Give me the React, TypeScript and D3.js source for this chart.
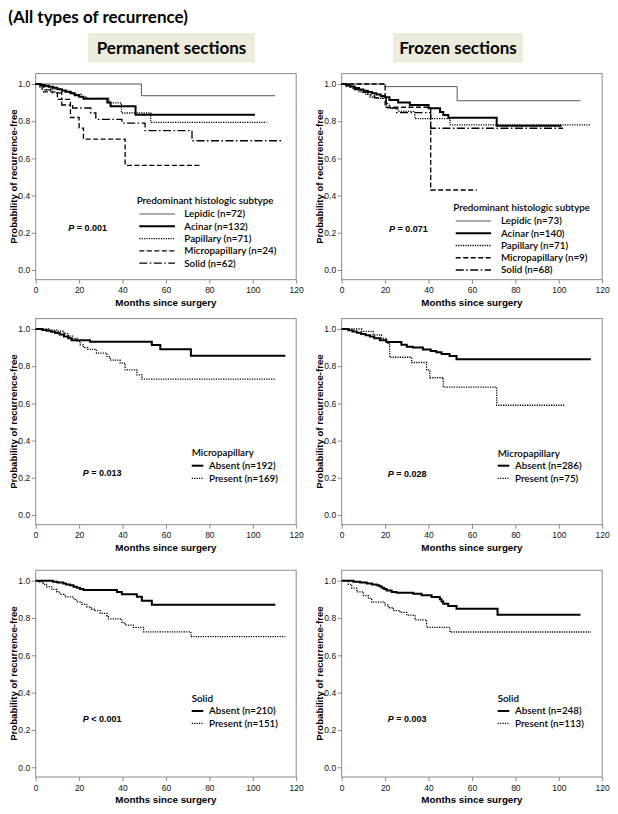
import React from "react";
import * as d3 from "d3";

type Pt = [number, number];

// ---- Permanent sections, predominant histologic subtype ----
const permLepidic: Pt[] = [[0, 1], [48.7, 0.937], [110.3, 0.937]];
const permAcinar: Pt[] = [[0, 1], [2, 0.995], [4, 0.99], [6, 0.985], [8, 0.98], [10, 0.972], [12, 0.965], [14, 0.958], [16, 0.95], [18, 0.94], [20, 0.932], [22, 0.921], [33, 0.9], [34.5, 0.88], [46, 0.835], [101, 0.835]];
const permPapillary: Pt[] = [[0, 1], [3, 0.986], [7, 0.972], [12, 0.958], [17, 0.944], [21, 0.93], [23.7, 0.923], [33.8, 0.898], [39.5, 0.844], [53, 0.794], [106.4, 0.794]];
const permMicro: Pt[] = [[0, 1], [3, 0.958], [10, 0.917], [16, 0.82], [20, 0.763], [22, 0.704], [41.2, 0.563], [76, 0.563]];
const permSolid: Pt[] = [[0, 1], [2, 0.984], [4, 0.968], [7, 0.952], [12, 0.887], [17, 0.871], [25.4, 0.844], [27.7, 0.81], [39.7, 0.79], [50.4, 0.749], [72, 0.695], [113.8, 0.695]];

// ---- Frozen sections, predominant histologic subtype ----
const frozLepidic: Pt[] = [[0, 1], [20, 0.986], [53.2, 0.91], [110, 0.91]];
const frozAcinar: Pt[] = [[0, 1], [2, 0.993], [4, 0.986], [6, 0.979], [8, 0.971], [10, 0.964], [12, 0.957], [14, 0.95], [16, 0.943], [18, 0.936], [20, 0.929], [22, 0.914], [26, 0.9], [31.4, 0.887], [40, 0.869], [45.3, 0.85], [46.8, 0.833], [49.1, 0.819], [71.4, 0.775], [101.3, 0.775]];
const frozPapillary: Pt[] = [[0, 1], [2, 0.986], [5, 0.972], [8, 0.958], [11, 0.944], [13, 0.93], [16, 0.923], [20.5, 0.871], [26, 0.853], [33.7, 0.814], [49.9, 0.78], [114.6, 0.78]];
const frozMicro: Pt[] = [[0, 1], [20, 0.875], [41, 0.43], [62.2, 0.43]];
const frozSolid: Pt[] = [[0, 1], [3, 0.985], [6, 0.97], [9, 0.955], [12, 0.94], [15, 0.925], [20.5, 0.895], [22, 0.87], [25.3, 0.846], [41, 0.762], [102, 0.762]];

// ---- Micropapillary component ----
const permMpAbsent: Pt[] = [[0, 1], [3, 0.995], [5, 0.99], [7, 0.985], [9, 0.978], [11, 0.97], [13, 0.96], [15, 0.95], [16.5, 0.94], [25, 0.932], [53.5, 0.914], [57.4, 0.891], [71.5, 0.856], [115, 0.856]];
const permMpPresent: Pt[] = [[0, 1], [6, 0.994], [10, 0.988], [13, 0.975], [15, 0.962], [17, 0.95], [19, 0.935], [20.5, 0.915], [22, 0.9], [24, 0.89], [28, 0.87], [32.8, 0.851], [34.3, 0.833], [38.9, 0.816], [41.2, 0.78], [46.6, 0.753], [48.9, 0.73], [110.4, 0.73]];
const frozMpAbsent: Pt[] = [[0, 1], [3, 0.993], [5, 0.987], [7, 0.98], [9, 0.973], [11, 0.967], [13, 0.96], [15, 0.95], [17.6, 0.94], [20.6, 0.93], [27.5, 0.915], [30, 0.905], [32.8, 0.9], [37.4, 0.89], [41, 0.882], [43.6, 0.875], [46, 0.865], [49.7, 0.855], [52.9, 0.837], [114.8, 0.837]];
const frozMpPresent: Pt[] = [[0, 1], [9.2, 0.987], [14.5, 0.968], [18.3, 0.95], [20.6, 0.923], [22.1, 0.848], [32.2, 0.82], [39.1, 0.78], [40.6, 0.738], [46.8, 0.687], [71.4, 0.59], [102.8, 0.59]];

// ---- Solid component ----
const permSdAbsent: Pt[] = [[0, 1], [8, 0.995], [10, 0.99], [12.7, 0.985], [14, 0.98], [15.8, 0.975], [17.4, 0.968], [19, 0.962], [20.4, 0.956], [22, 0.95], [37.4, 0.94], [39.7, 0.927], [46.6, 0.914], [48.9, 0.893], [53.5, 0.871], [110.4, 0.871]];
const permSdPresent: Pt[] = [[0, 1], [1.2, 0.993], [3.5, 0.98], [5, 0.967], [7.4, 0.953], [9.7, 0.94], [11.2, 0.927], [13.5, 0.913], [17.4, 0.9], [18.9, 0.887], [21.2, 0.873], [23.5, 0.86], [25.5, 0.847], [27.4, 0.84], [29.7, 0.825], [32.8, 0.812], [33.5, 0.795], [39.7, 0.775], [41.2, 0.762], [45, 0.75], [49.7, 0.726], [71.5, 0.7], [115, 0.7]];
const frozSdAbsent: Pt[] = [[0, 1], [5.4, 0.995], [8.5, 0.99], [11.5, 0.985], [14, 0.98], [16.1, 0.975], [17.3, 0.97], [18.4, 0.962], [19.5, 0.955], [20.7, 0.948], [23, 0.94], [25.3, 0.935], [33, 0.93], [36.8, 0.922], [41.4, 0.913], [45.2, 0.9], [46, 0.888], [46.8, 0.877], [49.1, 0.865], [52.9, 0.85], [71.8, 0.818], [110, 0.818]];
const frozSdPresent: Pt[] = [[0, 1], [3, 0.98], [4.6, 0.96], [6.9, 0.94], [10, 0.92], [12.3, 0.905], [13.8, 0.885], [19.9, 0.87], [21.5, 0.855], [23.8, 0.84], [26.9, 0.83], [30, 0.815], [33.8, 0.79], [39.1, 0.75], [49.9, 0.725], [114.8, 0.725]];

const xTicks = [0, 20, 40, 60, 80, 100, 120];
const yTicks = [0, 0.2, 0.4, 0.6, 0.8, 1.0];

const permSubtypeLabels = ["Lepidic (n=72)", "Acinar (n=132)", "Papillary (n=71)", "Micropapillary (n=24)", "Solid (n=62)"];
const frozSubtypeLabels = ["Lepidic (n=73)", "Acinar (n=140)", "Papillary (n=71)", "Micropapillary (n=9)", "Solid (n=68)"];
const permMpLabels = ["Absent (n=192)", "Present (n=169)"];
const frozMpLabels = ["Absent (n=286)", "Present (n=75)"];
const permSdLabels = ["Absent (n=210)", "Present (n=151)"];
const frozSdLabels = ["Absent (n=248)", "Present (n=113)"];
const pTexts = [" = 0.001", " = 0.071", " = 0.013", " = 0.028", " < 0.001", " = 0.003"];

const subtypeStyles = [
  { w: 1, dash: "", color: "#555" },
  { w: 2, dash: "", color: "#000" },
  { w: 1.3, dash: "1.2,1.2", color: "#000" },
  { w: 1.3, dash: "5,2.5", color: "#000" },
  { w: 1.3, dash: "8,2.5,1.5,2.5", color: "#000" },
];
const binaryStyles = [
  { w: 2, dash: "", color: "#000" },
  { w: 1.3, dash: "1.2,1.2", color: "#000" },
];

const colX = [35.7, 341.7];
const rowY = [[84, 270], [329, 515], [580.7, 767.3]];
const plotW = 260.5;

const panels = [
  { c: 0, r: 0, series: [permLepidic, permAcinar, permPapillary, permMicro, permSolid], labels: permSubtypeLabels, styles: subtypeStyles, title: "Predominant histologic subtype", p: pTexts[0],
    lg: { tx: 136.7, ty: 201, s0: 139.3, s1: 175, lx: 184.3, y0: 214, dy: 12.3 }, pp: [68.3, 228.3] },
  { c: 1, r: 0, series: [frozLepidic, frozAcinar, frozPapillary, frozMicro, frozSolid], labels: frozSubtypeLabels, styles: subtypeStyles, title: "Predominant histologic subtype", p: pTexts[1],
    lg: { tx: 453.3, ty: 208, s0: 455.7, s1: 491, lx: 501, y0: 221, dy: 12.25 }, pp: [389, 229] },
  { c: 0, r: 1, series: [permMpAbsent, permMpPresent], labels: permMpLabels, styles: binaryStyles, title: "Micropapillary", p: pTexts[2],
    lg: { tx: 191.7, ty: 452.7, s0: 191.7, s1: 203.3, lx: 209, y0: 465.7, dy: 12.6 }, pp: [82.7, 473.3] },
  { c: 1, r: 1, series: [frozMpAbsent, frozMpPresent], labels: frozMpLabels, styles: binaryStyles, title: "Micropapillary", p: pTexts[3],
    lg: { tx: 497.7, ty: 453.3, s0: 497.7, s1: 509.3, lx: 515, y0: 465.7, dy: 12.6 }, pp: [387.7, 473.7] },
  { c: 0, r: 2, series: [permSdAbsent, permSdPresent], labels: permSdLabels, styles: binaryStyles, title: "Solid", p: pTexts[4],
    lg: { tx: 191.7, ty: 698.3, s0: 191.7, s1: 203.3, lx: 209, y0: 711, dy: 12.3 }, pp: [82.7, 718.7] },
  { c: 1, r: 2, series: [frozSdAbsent, frozSdPresent], labels: frozSdLabels, styles: binaryStyles, title: "Solid", p: pTexts[5],
    lg: { tx: 497.7, ty: 698.3, s0: 497.7, s1: 509.3, lx: 515, y0: 711, dy: 12.3 }, pp: [387.7, 718.7] },
];

const arial = "'Liberation Sans', Arial, sans-serif";
const calibri = "Lato, 'Open Sans', sans-serif";

export default function App() {
  const svgRef = React.useRef<SVGSVGElement>(null);

  React.useEffect(() => {
    const svg = d3.select(svgRef.current);
    svg.selectAll("*").remove();

    // headings
    svg.append("text").attr("x", 8.3).attr("y", 22.7)
      .attr("font-family", calibri).attr("font-weight", "bold").attr("font-size", 17)
      .text("(All types of recurrence)");
    const heads = [
      { x: 88, w: 167, label: "Permanent sections" },
      { x: 393, w: 130, label: "Frozen sections" },
    ];
    heads.forEach((h) => {
      svg.append("rect").attr("x", h.x).attr("y", 33).attr("width", h.w).attr("height", 29.5).attr("fill", "#ecebdc");
      svg.append("text").attr("x", h.x + h.w / 2).attr("y", 53.5).attr("text-anchor", "middle")
        .attr("font-family", calibri).attr("font-weight", "bold").attr("font-size", 17)
        .text(h.label);
    });

    panels.forEach((pn) => {
      const x0 = colX[pn.c];
      const [yTop, yBot] = rowY[pn.r];
      const x = d3.scaleLinear().domain([0, 120]).range([x0, x0 + plotW]);
      const y = d3.scaleLinear().domain([0, 1]).range([yBot, yTop]);
      const g = svg.append("g");

      const boxTop = y(1.056);
      const boxBot = y(-0.052);
      g.append("rect").attr("x", x(0)).attr("y", boxTop).attr("width", x(120) - x(0)).attr("height", boxBot - boxTop)
        .attr("fill", "none").attr("stroke", "#8a8a8a").attr("stroke-width", 1);

      const xAxis = g.append("g").attr("transform", `translate(0,${boxBot})`)
        .call(d3.axisBottom(x).tickValues(xTicks).tickSize(4).tickPadding(3.5).tickFormat(d3.format("d")));
      const yAxis = g.append("g").attr("transform", `translate(${x0},0)`)
        .call(d3.axisLeft(y).tickValues(yTicks).tickSize(4).tickPadding(1.5).tickFormat(d3.format(".1f")));
      [xAxis, yAxis].forEach((a) => {
        a.select(".domain").remove();
        a.selectAll(".tick line").attr("stroke", "#8a8a8a");
        a.selectAll(".tick text").attr("font-family", arial).attr("font-size", 8.5).attr("fill", "#111");
      });

      g.append("text").attr("x", x(60)).attr("y", yBot + 32.7).attr("dy", "0.35em").attr("text-anchor", "middle")
        .attr("font-family", arial).attr("font-weight", "bold").attr("font-size", 9.8).text("Months since surgery");
      g.append("text").attr("transform", `translate(${x0 - 22.4},${(boxTop + boxBot) / 2}) rotate(-90)`)
        .attr("dy", "0.35em").attr("text-anchor", "middle")
        .attr("font-family", arial).attr("font-weight", "bold").attr("font-size", 9.6).text("Probability of recurrence-free");

      const line = d3.line<Pt>().x((d) => x(d[0])).y((d) => y(d[1])).curve(d3.curveStepAfter);
      pn.series.forEach((s, i) => {
        const st = pn.styles[i];
        g.append("path").attr("d", line(s)).attr("fill", "none").attr("stroke", st.color)
          .attr("stroke-width", st.w).attr("stroke-dasharray", st.dash || null);
      });

      // legend
      const lg = pn.lg;
      g.append("text").attr("x", lg.tx).attr("y", lg.ty).attr("dy", "0.35em")
        .attr("font-family", calibri).attr("font-weight", 600).attr("font-size", 9.8).text(pn.title);
      pn.labels.forEach((lab, i) => {
        const st = pn.styles[i];
        const yy = lg.y0 + i * lg.dy;
        g.append("line").attr("x1", lg.s0).attr("x2", lg.s1).attr("y1", yy).attr("y2", yy)
          .attr("stroke", st.color).attr("stroke-width", st.w).attr("stroke-dasharray", st.dash || null);
        g.append("text").attr("x", lg.lx).attr("y", yy).attr("dy", "0.35em")
          .attr("font-family", calibri).attr("font-weight", 600).attr("font-size", 9.8).text(lab);
      });

      const pt = g.append("text").attr("x", pn.pp[0]).attr("y", pn.pp[1]).attr("dy", "0.35em")
        .attr("font-family", arial).attr("font-weight", "bold").attr("font-size", 9);
      pt.append("tspan").attr("font-style", "italic").text("P");
      pt.append("tspan").text(pn.p);
    });
  }, []);

  return (
    <svg ref={svgRef} width={618} height={814} style={{ position: "absolute", left: 0, top: 0, background: "#fff" }} />
  );
}
